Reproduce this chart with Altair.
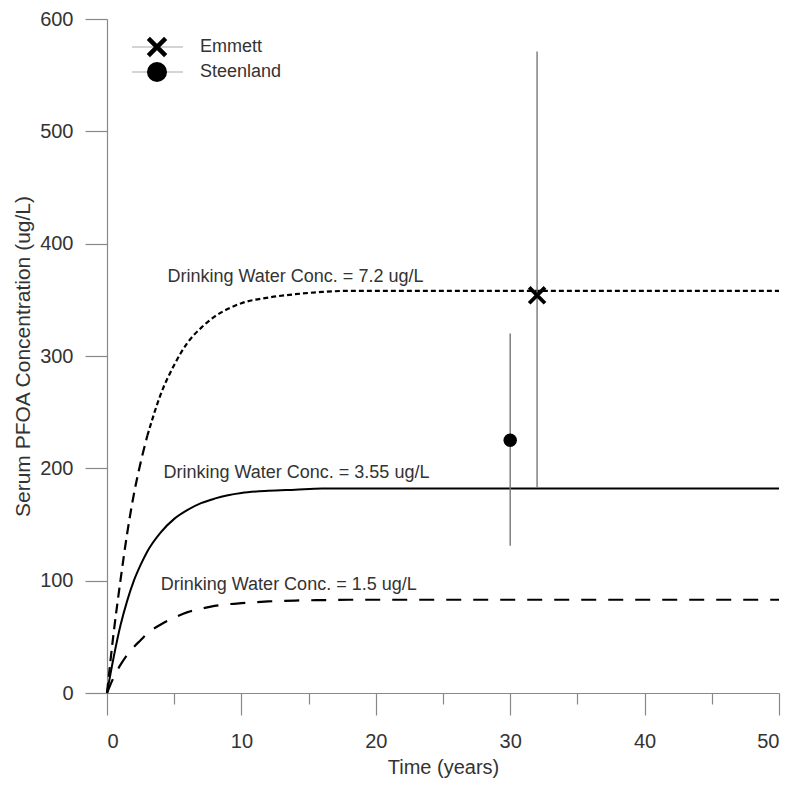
import altair as alt
import pandas as pd

# ---- data ----
time_years = [0, 0.5, 1, 1.5, 2, 2.5, 3, 4, 5, 6, 7, 8, 9, 10, 12, 14, 16, 18, 20, 25, 30, 40, 50]
conc_7_2 = [0, 54, 100, 142, 177, 205, 229, 266, 292, 312, 325, 335, 342, 347, 352, 355, 357, 358, 358, 358, 358, 358, 358]
conc_3_55 = [0, 32, 60, 82, 100, 114, 126, 143, 155, 163, 169, 173, 176, 178, 180, 181, 182, 182, 182, 182, 182, 182, 182]
conc_1_5 = [0, 14, 25, 34, 41, 47, 53, 61, 67, 72, 75, 77.5, 79, 80, 81.5, 82.3, 82.7, 83, 83, 83, 83, 83, 83]

study_names = ["Emmett", "Steenland"]
study_time = [32, 30]
study_value = [354, 225]
study_low = [183, 131]
study_high = [571, 320]

label_texts = ["Drinking Water Conc. = 7.2 ug/L", "Drinking Water Conc. = 3.55 ug/L", "Drinking Water Conc. = 1.5 ug/L"]
label_time = [4.5, 4.2, 4.0]
label_value = [370, 196, 96]

x_ticks = [0, 5, 10, 15, 20, 25, 30, 35, 40, 45, 50]
y_ticks = [0, 100, 200, 300, 400, 500, 600]

FONT = "Liberation Sans"
TXT = "#333333"
AX = "#888888"

curves = pd.DataFrame({"t": time_years, "c72": conc_7_2, "c355": conc_3_55, "c15": conc_1_5})
studies = pd.DataFrame({"name": study_names, "t": study_time, "v": study_value,
                        "lo": study_low, "hi": study_high})
labels = pd.DataFrame({"text": label_texts, "t": label_time, "v": label_value})

xscale = alt.Scale(domain=[0, 50], nice=False, zero=False)
yscale = alt.Scale(domain=[0, 600], nice=False)

x_axis = alt.Axis(
    values=x_ticks, grid=False, title="Time (years)",
    tickSize={"condition": {"test": "datum.value % 10 === 0", "value": 22}, "value": 11},
    labelExpr="datum.value % 10 === 0 ? datum.label : ''",
    labelFont=FONT, labelFontSize=20, labelColor=TXT, labelPadding=16,
    titleFont=FONT, titleFontSize=20, titleFontWeight="normal", titleColor=TXT, titlePadding=6,
    domainColor=AX, tickColor=AX, domainWidth=1.2, tickWidth=1.2,
)
y_axis = alt.Axis(
    values=y_ticks, grid=False, title="Serum PFOA Concentration (ug/L)",
    tickSize=22, labelFont=FONT, labelFontSize=20, labelColor=TXT, labelPadding=12,
    titleFont=FONT, titleFontSize=21, titleFontWeight="normal", titleColor=TXT, titlePadding=6,
    domainColor=AX, tickColor=AX, domainWidth=1.2, tickWidth=1.2,
)

base = alt.Chart(curves)
X = alt.X("t:Q", scale=xscale, axis=x_axis)

line72a = base.transform_filter("datum.t <= 3").mark_line(
    color="black", strokeWidth=2.2, strokeDash=[10, 6], interpolate="monotone").encode(
    x=X, y=alt.Y("c72:Q", scale=yscale, axis=y_axis))
line72b = base.transform_filter("datum.t >= 3").mark_line(
    color="black", strokeWidth=2.2, strokeDash=[5, 3], interpolate="monotone").encode(
    x="t:Q", y="c72:Q")
line355 = base.mark_line(color="black", strokeWidth=2, interpolate="monotone").encode(x="t:Q", y="c355:Q")
line15 = base.mark_line(color="black", strokeWidth=2.2, strokeDash=[15, 12], interpolate="monotone").encode(
    x="t:Q", y="c15:Q")

sbase = alt.Chart(studies)
errbars = sbase.mark_rule(color="#777777", strokeWidth=1.4).encode(x="t:Q", y="lo:Q", y2="hi:Q")
emmett = sbase.transform_filter("datum.name === 'Emmett'").mark_point(
    shape="M-1,-1L1,1M-1,1L1,-1", filled=False, color="black", strokeWidth=3.8, size=250, opacity=1
).encode(x="t:Q", y="v:Q")
steen = sbase.transform_filter("datum.name === 'Steenland'").mark_circle(
    color="black", size=180, opacity=1).encode(x="t:Q", y="v:Q")

texts = alt.Chart(labels).mark_text(align="left", baseline="middle", font=FONT, fontSize=18, color=TXT).encode(
    x="t:Q", y="v:Q", text="text:N")

# ---- legend (top-left, inside plot) ----
leg = alt.Chart(pd.DataFrame({"name": study_names}))
leg_e = leg.transform_filter("datum.name === 'Emmett'")
leg_s = leg.transform_filter("datum.name === 'Steenland'")
leg_layers = [
    leg_e.mark_rule(color="#aaaaaa", strokeWidth=1.2).encode(x=alt.value(25), x2=alt.value(76), y=alt.value(28)),
    leg_s.mark_rule(color="#aaaaaa", strokeWidth=1.2).encode(x=alt.value(25), x2=alt.value(76), y=alt.value(53)),
    leg_e.mark_point(shape="M-1,-1L1,1M-1,1L1,-1", filled=False, color="black", strokeWidth=4.5, size=300,
                     opacity=1).encode(x=alt.value(50), y=alt.value(28)),
    leg_s.mark_circle(color="black", size=400, opacity=1).encode(x=alt.value(50), y=alt.value(53)),
    leg_e.mark_text(align="left", baseline="middle", font=FONT, fontSize=18, color=TXT).encode(
        x=alt.value(93), y=alt.value(28), text="name:N"),
    leg_s.mark_text(align="left", baseline="middle", font=FONT, fontSize=18, color=TXT).encode(
        x=alt.value(93), y=alt.value(53), text="name:N"),
]

chart = alt.layer(line72a, line72b, line355, line15, errbars, emmett, steen, texts, *leg_layers).properties(
    width=672, height=674,
    autosize=alt.AutoSizeParams(type="none"),
    padding={"left": 99, "top": 11, "right": 12, "bottom": 90},
    background="white",
).configure_view(stroke=None)

chart.save("out.html", embed_options={"renderer": "svg", "actions": False})
